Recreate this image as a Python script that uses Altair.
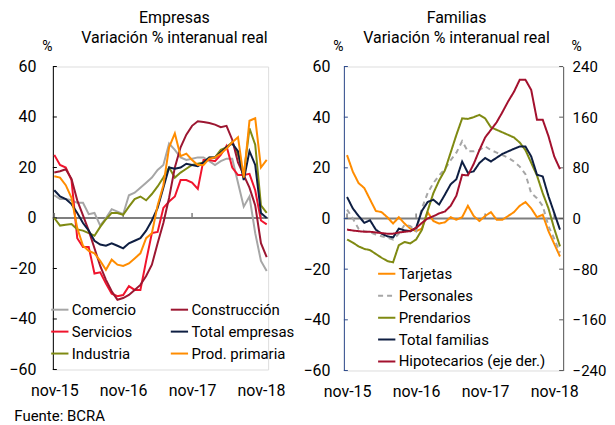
import altair as alt
import pandas as pd

FONT = "Roboto"

MESES = ["nov-15", "dic-15",
         "ene-16", "feb-16", "mar-16", "abr-16", "may-16", "jun-16", "jul-16", "ago-16", "sep-16", "oct-16", "nov-16", "dic-16",
         "ene-17", "feb-17", "mar-17", "abr-17", "may-17", "jun-17", "jul-17", "ago-17", "sep-17", "oct-17", "nov-17", "dic-17",
         "ene-18", "feb-18", "mar-18", "abr-18", "may-18", "jun-18", "jul-18", "ago-18", "sep-18", "oct-18", "nov-18", "dic-18"]
TICKS_X = ["nov-15", "nov-16", "nov-17", "nov-18"]

# Empresas (variación % interanual real)
COMERCIO = [9, 7.5, 7.5, 7, 6, 6, 1.5, 2, -3, 0, 3.5, 2.5, 1.5, 9, 10, 12, 14, 16, 19, 21,
            29.5, 27, 24, 23, 23.5, 24, 24, 22.5, 21, 22.5, 23.5, 23.5, 14, 4.5, 8.5, -6, -17, -21]
CONSTRUCCION = [18, 18.5, 19.3, 15.5, 7, 1, -5, -12, -19, -24.5, -29, -32.4, -31.7, -30.5, -28.5, -26.5, -23, -18.5, -10, -2,
                8, 20, 28, 33, 36.5, 38.3, 38, 37.6, 37, 36, 36.5, 31, 22, 17, 12, 5, -10, -15.5]
SERVICIOS = [25, 21, 20, 15, -8, -11.5, -11.5, -22, -21.5, -26, -30, -31, -30.5, -27, -28.5, -28.5, -17, -6, -5.5, 4,
             6.5, 8.5, 15, 15, 14, 11.5, 23, 23, 22.5, 25, 28.5, 20, 17, 17, 17.5, 11, -1, -2.5]
TOTAL_EMPRESAS = [11, 8.5, 7.5, 5.5, 2, -2, -5, -9, -10.5, -11, -10, -11, -12, -10, -9, -8, -5, -1, 4, 12,
                  20, 19.5, 20, 21.5, 21, 20.5, 22, 24, 24, 26, 28, 29.5, 26.5, 15, 26.5, 21, 2, 0]
INDUSTRIA = [0, -3, -2.7, -2.4, -4.5, -5, -6, -7, -3.5, -0.5, 2, 2, 1.3, 4.5, 7.5, 8.5, 7, 9.5, 12.5, 16,
             20, 16, 18, 19.5, 21, 21.5, 22, 24, 24, 27, 28, 30, 25, 17, 35.5, 29, 5, 2]
PROD_PRIMARIA = [16.5, 16, 13, 8, -4, -11, -13, -14, -17, -20.5, -16.5, -18.5, -19, -18, -16, -14, -8, -6, 5, 13,
                 28, 33.5, 24.5, 25.5, 23, 21, 21, 23.5, 24, 25.5, 27.5, 30, 32, 16, 38.5, 39.5, 20, 23]

# Familias (variación % interanual real)
TARJETAS = [25, 18.5, 14, 12, 7.5, 3, 2.5, 0.5, -2, 0.5, -2, -4, -5, -4, 2.5, -1, -2, -1.5, 0.5, -0.5,
            0.5, 5, 1, -1, 1, 2.5, -0.5, -0.5, 1, 2.5, 5, 6.5, 4, 0.5, 1.5, -5, -10, -15]
PERSONALES = [3.5, 0, -4, -5, -5.5, -6.3, -7, -7.6, -8.3, -6, -2.5, -3, -5, 4, 10, 14, 17, 19.5, 23, 26,
              30.5, 26.5, 26.5, 27, 28.5, 27, 26, 25, 24, 22.5, 20.5, 17.5, 10, 8, 5, -3, -8, -13.5]
PRENDARIOS = [-8.3, -9.5, -11, -12, -12.5, -14, -15.5, -16.8, -17.3, -10.5, -9.3, -9.8, -8.3, -4.5, 3, 10, 15, 19, 26, 33,
              39.5, 39.3, 40, 40.9, 39.5, 36, 35, 34, 33, 32, 30, 27, 22, 17, 10, 4, -4, -11]
TOTAL_FAMILIAS = [8.5, 4, 1, -1.7, -0.7, -4.4, -6, -7, -7.5, -4, -4.7, -5, -3.7, 3, 6.5, 7.4, 5.5, 9.4, 13.5, 15.5,
                  22.5, 18, 18.6, 21.9, 23.9, 22.5, 24, 25.5, 26.5, 27.5, 28.4, 28.4, 24.5, 17.3, 16.6, 8.8, 2.2, -4.4]
HIPOTECARIOS = [-17.5, -19, -20, -21, -21, -22, -23, -24, -24, -22, -21, -20, -15, -7, 0, 3.5, 8, 11, 20, 36,
                69, 68, 86, 108, 128, 140, 152, 168, 185, 200, 219, 219, 203, 156, 156, 130, 98, 78]

# legend is filled column by column: this order gives the reference's rows
NOMBRES_EMP = ["Comercio", "Servicios", "Industria", "Construcción", "Total empresas", "Prod. primaria"]
COLORES_EMP = ["#A6A6A6", "#F0142D", "#7F8A12", "#9C1631", "#0E1E42", "#FF8C00"]
SERIES_EMP = [COMERCIO, SERVICIOS, INDUSTRIA, CONSTRUCCION, TOTAL_EMPRESAS, PROD_PRIMARIA]

NOMBRES_FAM = ["Tarjetas", "Personales", "Prendarios", "Total familias", "Hipotecarios (eje der.)"]
COLORES_FAM = ["#FF8C00", "#A6A6A6", "#7F8A12", "#0E1E42", "#A3112E"]
DASH_FAM = [[1, 0], [5, 4], [1, 0], [1, 0], [1, 0]]
SERIES_FAM = [TARJETAS, PERSONALES, PRENDARIOS, TOTAL_FAMILIAS]

Y_TICKS = [-60, -40, -20, 0, 20, 40, 60]
Y2_TICKS = [-240, -160, -80, 0, 80, 160, 240]
Y_DOM = [-60, 60]
Y2_DOM = [-240, 240]


def long_df(names, series):
    rows = []
    for n, vals in zip(names, series):
        for m, v in zip(MESES, vals):
            rows.append({"mes": m, "serie": n, "valor": v})
    return pd.DataFrame(rows)


df_emp = long_df(NOMBRES_EMP, SERIES_EMP)
df_fam = long_df(NOMBRES_FAM[:4], SERIES_FAM)
df_hip = long_df(NOMBRES_FAM[4:], [HIPOTECARIOS])
df_zero = pd.DataFrame({"valor": [0]})
df_xt = pd.DataFrame({"mes": TICKS_X, "valor": [0] * len(TICKS_X), "valor2": [2] * len(TICKS_X)})
df_yt = pd.DataFrame({"valor": Y_TICKS})
df_y2t = pd.DataFrame({"valor": Y2_TICKS})

W1, H1 = 216, 304
W2, H2 = 220, 305
GREY = "#7F7F7F"
BLUE_AX = "#2F4B8C"


def x_labels(pad):
    return alt.X("mes:O", sort=MESES, scale=alt.Scale(type="point", domain=MESES, padding=pad),
                 axis=alt.Axis(orient="bottom", values=TICKS_X, labelAngle=0, domain=False, ticks=False,
                               labelFontSize=16, labelFont=FONT, labelColor="black", labelPadding=13,
                               title=None, grid=False))


def y_main(domain, values, orient, color, pad, title_x, size=16):
    return alt.Y("valor:Q", scale=alt.Scale(domain=domain, nice=False, zero=False),
                 axis=alt.Axis(orient=orient, values=values, domain=True, domainColor=color, domainWidth=1,
                               ticks=False, labelFontSize=size, labelFont=FONT, labelColor="black",
                               labelPadding=pad, grid=False,
                               title="%", titleAngle=0, titleX=title_x, titleY=-20, titleFontSize=14,
                               titleFont=FONT, titleFontWeight="normal", titleColor="black",
                               titleAlign="center", titleBaseline="middle"))


def y_plain(domain):
    return alt.Y("valor:Q", scale=alt.Scale(domain=domain, nice=False, zero=False), axis=None)


def guides(pad, tick_color, y_enc):
    """Zero line with small ticks above it, and inward ticks on the value axis."""
    zero = alt.Chart(df_zero).mark_rule(color=GREY, strokeWidth=2).encode(y=y_enc)
    xt = alt.Chart(df_xt).mark_rule(color=GREY, strokeWidth=1.5).encode(
        x=x_labels(pad), y=y_enc, y2=alt.Y2("valor2:Q"))
    yt = alt.Chart(df_yt).mark_rule(color=tick_color, strokeWidth=1).encode(
        y=y_enc, x=alt.value(0), x2=alt.value(4))
    return [zero, xt, yt]


def title(main, sub, dx):
    return alt.TitleParams(text=main, subtitle=sub, fontSize=16, font=FONT, fontWeight="normal",
                           color="black", subtitleFontSize=16, subtitleFont=FONT, subtitleColor="black",
                           subtitleFontWeight="normal", subtitlePadding=4,
                           anchor="middle", frame="group", offset=-6, dx=dx)


# ---------------- Empresas ----------------
PAD1 = 0.25
leg_emp = alt.Legend(orient="none", legendX=-3, legendY=234, columns=2, columnPadding=30, rowPadding=4,
                     symbolType="stroke", symbolSize=300, symbolStrokeWidth=2, labelFontSize=15,
                     labelFont=FONT, labelColor="black", labelOffset=2, title=None, padding=0)

Y_EMP = y_main(Y_DOM, Y_TICKS, "left", "black", 17, -6)
lines_emp = alt.Chart(df_emp).mark_line(strokeWidth=2).encode(
    x=x_labels(PAD1),
    y=Y_EMP,
    color=alt.Color("serie:N", sort=NOMBRES_EMP,
                    scale=alt.Scale(domain=NOMBRES_EMP, range=COLORES_EMP), legend=leg_emp),
)
emp = alt.layer(*guides(PAD1, "black", Y_EMP), lines_emp).properties(
    width=W1, height=H1, title=title("Empresas", "Variación % interanual real", 14))

# ---------------- Familias ----------------
PAD2 = 0.55
leg_fam = alt.Legend(orient="none", legendX=33, legendY=198, columns=1, rowPadding=4,
                     symbolType="stroke", symbolSize=300, symbolStrokeWidth=2, labelFontSize=15,
                     labelFont=FONT, labelColor="black", labelOffset=2, title=None, padding=0)
color_fam = alt.Color("serie:N", sort=NOMBRES_FAM,
                      scale=alt.Scale(domain=NOMBRES_FAM, range=COLORES_FAM), legend=leg_fam)
dash_fam = alt.StrokeDash("serie:N", sort=NOMBRES_FAM,
                          scale=alt.Scale(domain=NOMBRES_FAM, range=DASH_FAM), legend=leg_fam)

lines_fam = alt.Chart(df_fam).mark_line(strokeWidth=2).encode(
    x=x_labels(PAD2),
    y=y_main(Y_DOM, Y_TICKS, "left", BLUE_AX, 14, -6),
    color=color_fam,
    strokeDash=dash_fam,
)
line_hip = alt.Chart(df_hip).mark_line(strokeWidth=2).encode(
    x=x_labels(PAD2),
    y=y_main(Y2_DOM, Y2_TICKS, "right", "#595959", 9, 13, size=15),
    color=color_fam,
    strokeDash=dash_fam,
)
yt_hip = alt.Chart(df_y2t).mark_rule(color="#595959", strokeWidth=1).encode(
    x=alt.value(W2 - 4), x2=alt.value(W2), y=y_plain(Y2_DOM))

fam = alt.layer(*guides(PAD2, BLUE_AX, y_plain(Y_DOM)), yt_hip, lines_fam, line_hip).resolve_scale(
    y="independent").properties(
    width=W2, height=H2, title=title("Familias", "Variación % interanual real", 3))

chart = alt.hconcat(emp, fam, spacing=6).resolve_scale(
    color="independent", strokeDash="independent"
).properties(
    padding={"left": 0, "top": 0, "right": 0, "bottom": 0},
    title=alt.TitleParams("Fuente: BCRA", orient="bottom", anchor="start", fontSize=15, font=FONT,
                          fontWeight="normal", color="black", offset=9, dx=6),
).configure_view(stroke=None).configure(font=FONT, background="white")

chart.save("out.html", embed_options={"renderer": "svg", "actions": False})
